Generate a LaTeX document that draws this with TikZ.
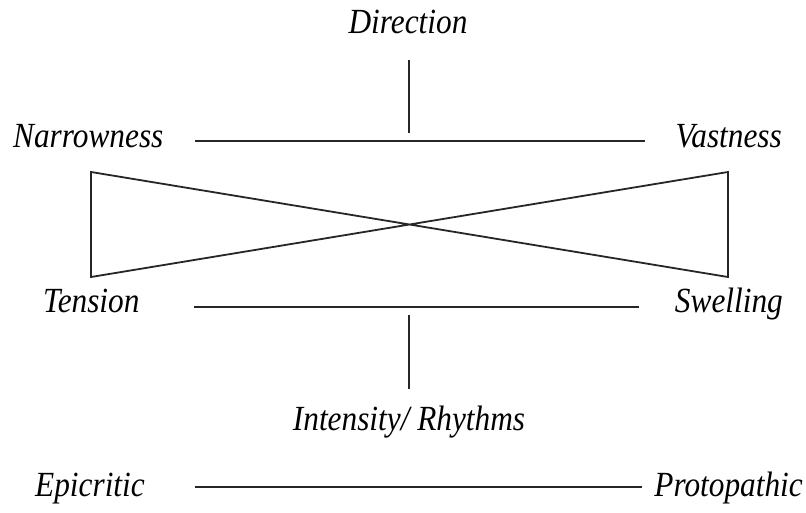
\documentclass[tikz,border=0pt]{standalone}
\usepackage{fontspec}
\setmainfont{Liberation Serif}[ItalicFont={Liberation Serif Italic}]
\newcommand{\tallt}[1]{\scalebox{1.01}[1.14]{\itshape #1}}
\begin{document}
\begin{tikzpicture}[x=1pt,y=-1pt,
  lbl/.style={inner sep=0pt,font=\fontsize{31}{31}\selectfont},
  hline/.style={line width=1.8pt,draw=black!85},
  vline/.style={line width=1.5pt,draw=black!85},
  bow/.style={line width=1.8pt,draw=black!85,line join=miter}]
\useasboundingbox (0,0) rectangle (806,513);
% labels
\node[lbl,anchor=base] (dir) at (408,34) {\tallt{Direction}};
\node[lbl,anchor=base west] (nar) at (13,148) {\tallt{Narrowness}};
\node[lbl,anchor=base east] (vas) at (782,148) {\tallt{Vastness}};
\node[lbl,anchor=base west] (ten) at (43,312) {\tallt{Tension}};
\node[lbl,anchor=base east] (swe) at (783,312) {\tallt{Swelling}};
\node[lbl,anchor=base] (int) at (409,430) {\tallt{Intensity/ Rhythms}};
\node[lbl,anchor=base west] (epi) at (35,496) {\tallt{Epicritic}};
\node[lbl,anchor=base east] (pro) at (803,496) {\tallt{Protopathic}};
% connector ends
\coordinate (d1) at (409,60);
\coordinate (d2) at (409,133);
\coordinate (h1a) at (195,141);
\coordinate (h1b) at (645,141);
\coordinate (h2a) at (194,307);
\coordinate (h2b) at (639,307);
\coordinate (i1) at (409,315);
\coordinate (i2) at (409,389);
\coordinate (h3a) at (195,487);
\coordinate (h3b) at (642,487);
\coordinate (bl1) at (91,172);
\coordinate (bl2) at (91,277);
\coordinate (br1) at (728,172);
\coordinate (br2) at (728,277);
% lines
\draw[vline] (d1) -- (d2);
\draw[hline] (h1a) -- (h1b);
\draw[hline] (h2a) -- (h2b);
\draw[vline] (i1) -- (i2);
\draw[hline] (h3a) -- (h3b);
\draw[bow] (bl1) -- (br2) -- (br1) -- (bl2) -- cycle;
\end{tikzpicture}
\end{document}
